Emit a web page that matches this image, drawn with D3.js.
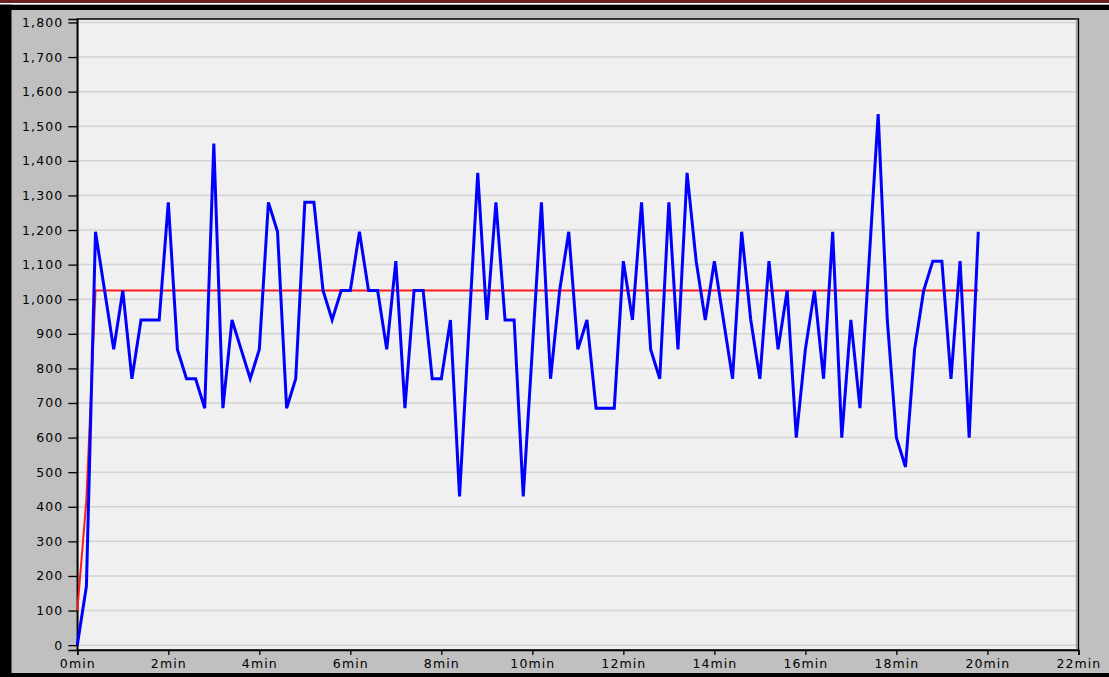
<!DOCTYPE html>
<html>
<head>
<meta charset="utf-8">
<script src="https://cdn.jsdelivr.net/npm/d3@7"></script>
<style>
    html, body { margin: 0; padding: 0; background: #c0c0c0; }
    svg { display: block; }
    .tick text { font-family: "DejaVu Sans", sans-serif; font-size: 12.5px; letter-spacing: 1.1px; fill: #000; }
</style>
</head>
<body>
<div id="chart"></div>
<script>
// sample times (minutes) and measured values of the blue series
var sampleMinutes = [
    0, 0.2, 0.4, 0.6, 0.8, 1, 1.2, 1.4, 1.6, 1.8,
    2, 2.2, 2.4, 2.6, 2.8, 3, 3.2, 3.4, 3.6, 3.8,
    4, 4.2, 4.4, 4.6, 4.8, 5, 5.2, 5.4, 5.6, 5.8,
    6, 6.2, 6.4, 6.6, 6.8, 7, 7.2, 7.4, 7.6, 7.8,
    8, 8.2, 8.4, 8.6, 8.8, 9, 9.2, 9.4, 9.6, 9.8,
    10, 10.2, 10.4, 10.6, 10.8, 11, 11.2, 11.4, 11.6, 11.8,
    12, 12.2, 12.4, 12.6, 12.8, 13, 13.2, 13.4, 13.6, 13.8,
    14, 14.2, 14.4, 14.6, 14.8, 15, 15.2, 15.4, 15.6, 15.8,
    16, 16.2, 16.4, 16.6, 16.8, 17, 17.2, 17.4, 17.6, 17.8,
    18, 18.2, 18.4, 18.6, 18.8, 19, 19.2, 19.4, 19.6, 19.8
];
var sampleValues = [
    0, 170, 1195, 1025, 855, 1025, 770, 940, 940, 940,
    1280, 855, 770, 770, 685, 1450, 685, 940, 855, 770,
    855, 1280, 1195, 685, 770, 1280, 1280, 1025, 940, 1025,
    1025, 1195, 1025, 1025, 855, 1110, 685, 1025, 1025, 770,
    770, 940, 430, 900, 1365, 940, 1280, 940, 940, 430,
    855, 1280, 770, 1025, 1195, 855, 940, 685, 685, 685,
    1110, 940, 1280, 855, 770, 1280, 855, 1365, 1110, 940,
    1110, 940, 770, 1195, 940, 770, 1110, 855, 1025, 600,
    855, 1025, 770, 1195, 600, 940, 685, 1110, 1535, 940,
    600, 515, 855, 1025, 1110, 1110, 770, 1110, 600, 1195
];
// red reference (average) line
var avgMinutes = [0, 0.2, 0.4, 19.8];
var avgValues = [100, 420, 1025, 1025];

var xTicks = [0, 2, 4, 6, 8, 10, 12, 14, 16, 18, 20, 22];
var yTicks = [0, 100, 200, 300, 400, 500, 600, 700, 800, 900, 1000, 1100, 1200, 1300, 1400, 1500, 1600, 1700, 1800];

function drawChart() {
    var W = 1109, H = 677;
    var plot = { left: 77.3, right: 1078.4, top: 19, bottom: 650 };

    var svg = d3.select("#chart").append("svg")
        .attr("width", W)
        .attr("height", H);

    // window frame
    svg.append("rect").attr("width", W).attr("height", H).attr("fill", "#c0c0c0");
    svg.append("rect").attr("x", 0).attr("y", 4.5).attr("width", W).attr("height", 5.5).attr("fill", "#000");
    svg.append("rect").attr("x", 0).attr("y", 0).attr("width", 11.5).attr("height", H).attr("fill", "#000");
    svg.append("rect").attr("x", 0).attr("y", 673).attr("width", W).attr("height", 4).attr("fill", "#000");
    svg.append("rect").attr("x", 0).attr("y", 0).attr("width", W).attr("height", 3).attr("fill", "#6b2222");
    svg.append("rect").attr("x", 0).attr("y", 3).attr("width", W).attr("height", 1.5).attr("fill", "#ffffff");

    var x = d3.scaleLinear().domain([0, 22]).range([plot.left, plot.right]);
    var y = d3.scaleLinear().domain([-14, 1810]).range([plot.bottom, plot.top]);

    // plot background
    svg.append("rect")
        .attr("x", plot.left).attr("y", plot.top)
        .attr("width", plot.right - plot.left).attr("height", plot.bottom - plot.top)
        .attr("fill", "#f0f0f0");

    // horizontal grid
    svg.append("g").selectAll("line")
        .data(yTicks)
        .enter().append("line")
        .attr("x1", plot.left).attr("x2", plot.right)
        .attr("y1", function (d) { return y(d); })
        .attr("y2", function (d) { return y(d); })
        .attr("stroke", "#d3d3d3")
        .attr("stroke-width", 1.5);

    // plot border
    svg.append("rect")
        .attr("x", plot.left).attr("y", plot.top)
        .attr("width", plot.right - plot.left).attr("height", plot.bottom - plot.top)
        .attr("fill", "none")
        .attr("stroke", "#000")
        .attr("stroke-width", 1.5);
    svg.append("line")
        .attr("x1", plot.right - 2).attr("x2", plot.right - 2)
        .attr("y1", plot.top).attr("y2", plot.bottom)
        .attr("stroke", "#909090").attr("stroke-width", 1);

    // axes
    var xAxis = svg.append("g")
        .attr("transform", "translate(0," + plot.bottom + ")")
        .call(d3.axisBottom(x).tickValues(xTicks).tickSize(5).tickPadding(4)
            .tickFormat(function (d) { return d + "min"; }));
    var yAxis = svg.append("g")
        .attr("transform", "translate(" + plot.left + ",0)")
        .call(d3.axisLeft(y).tickValues(yTicks).tickSize(9).tickPadding(5)
            .tickFormat(d3.format(",")));
    [xAxis, yAxis].forEach(function (ax) {
        ax.select(".domain").attr("stroke", "#000").attr("stroke-width", 1.5);
        ax.selectAll(".tick line").attr("stroke", "#000").attr("stroke-width", 1.3);
    });

    var line = d3.line()
        .x(function (d) { return x(d[0]); })
        .y(function (d) { return y(d[1]); });

    var avgData = avgMinutes.map(function (m, i) { return [m, avgValues[i]]; });
    var sampleData = sampleMinutes.map(function (m, i) { return [m, sampleValues[i]]; });

    svg.append("path")
        .datum(avgData)
        .attr("fill", "none")
        .attr("stroke", "#ff1a1a")
        .attr("stroke-width", 2)
        .attr("d", line);

    svg.append("path")
        .datum(sampleData)
        .attr("fill", "none")
        .attr("stroke", "#0000ff")
        .attr("stroke-width", 3)
        .attr("stroke-linejoin", "miter")
        .attr("d", line);
}

drawChart();
</script>
</body>
</html>
